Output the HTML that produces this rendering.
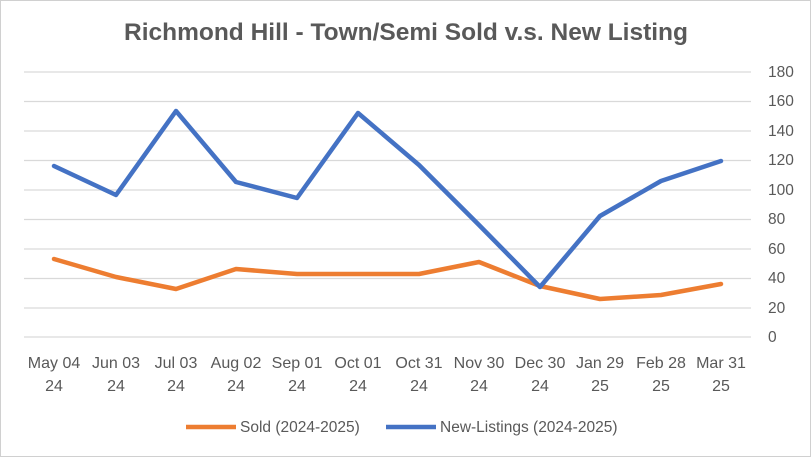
<!DOCTYPE html>
<html><head><meta charset="utf-8"><style>
html,body{margin:0;padding:0;background:#fff}
svg{display:block;font-family:"Liberation Sans",sans-serif}
</style></head><body>
<svg width="812" height="458" viewBox="0 0 812 458" xmlns="http://www.w3.org/2000/svg">
<rect x="0.5" y="0.5" width="810" height="456" fill="#fff" stroke="#d0d0d0"/>
<text x="406" y="40" text-anchor="middle" font-size="24.5" font-weight="bold" fill="#595959">Richmond Hill - Town/Semi Sold v.s. New Listing</text>
<g stroke="#d9d9d9" stroke-width="1.3">
<line x1="24" x2="751" y1="72" y2="72"/><line x1="24" x2="751" y1="101.5" y2="101.5"/>
<line x1="24" x2="751" y1="131" y2="131"/><line x1="24" x2="751" y1="160.5" y2="160.5"/>
<line x1="24" x2="751" y1="190" y2="190"/><line x1="24" x2="751" y1="219.5" y2="219.5"/>
<line x1="24" x2="751" y1="249" y2="249"/><line x1="24" x2="751" y1="278.5" y2="278.5"/>
<line x1="24" x2="751" y1="308" y2="308"/><line x1="24" x2="751" y1="337" y2="337"/>
</g>
<g font-size="15.5" fill="#595959">
<text x="768" y="77">180</text><text x="768" y="106">160</text><text x="768" y="136">140</text>
<text x="768" y="165">120</text><text x="768" y="195">100</text><text x="768" y="224">80</text>
<text x="768" y="254">60</text><text x="768" y="283">40</text><text x="768" y="313">20</text>
<text x="768" y="342">0</text>
</g>
<g font-size="16" fill="#595959" text-anchor="middle">
<text x="54" y="368">May 04</text><text x="54" y="391">24</text>
<text x="116" y="368">Jun 03</text><text x="116" y="391">24</text>
<text x="176" y="368">Jul 03</text><text x="176" y="391">24</text>
<text x="236" y="368">Aug 02</text><text x="236" y="391">24</text>
<text x="297" y="368">Sep 01</text><text x="297" y="391">24</text>
<text x="358" y="368">Oct 01</text><text x="358" y="391">24</text>
<text x="419" y="368">Oct 31</text><text x="419" y="391">24</text>
<text x="479" y="368">Nov 30</text><text x="479" y="391">24</text>
<text x="540" y="368">Dec 30</text><text x="540" y="391">24</text>
<text x="600" y="368">Jan 29</text><text x="600" y="391">25</text>
<text x="661" y="368">Feb 28</text><text x="661" y="391">25</text>
<text x="721" y="368">Mar 31</text><text x="721" y="391">25</text>
</g>
<polyline fill="none" stroke="#ed7d31" stroke-width="4.5" stroke-linejoin="round" stroke-linecap="round"
points="54,259 116,277 176,289 236,269 297,274 358,274 419,274 479,262 540,286 600,299 661,295 721,284"/>
<polyline fill="none" stroke="#4472c4" stroke-width="4.5" stroke-linejoin="round" stroke-linecap="round"
points="54,166 116,195 176,111 236,182 297,198 358,113 419,165 479,225 540,287 600,216 661,181 721,161"/>
<line x1="186" x2="236" y1="427" y2="427" stroke="#ed7d31" stroke-width="4.5"/>
<text x="240" y="432" font-size="15.5" fill="#595959">Sold (2024-2025)</text>
<line x1="386" x2="436" y1="427" y2="427" stroke="#4472c4" stroke-width="4.5"/>
<text x="440" y="432" font-size="15.5" fill="#595959">New-Listings (2024-2025)</text>
</svg>
</body></html>
